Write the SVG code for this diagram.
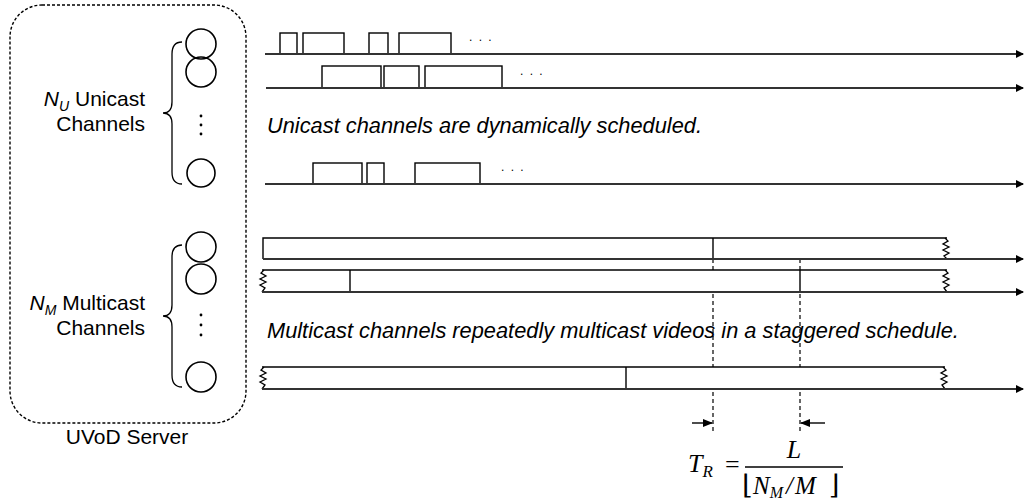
<svg xmlns="http://www.w3.org/2000/svg" width="1025" height="503" viewBox="0 0 1025 503">
<style>
.lbl{font-family:"Liberation Sans",Arial,sans-serif;font-size:21px;fill:#000}
.cap{font-family:"Liberation Sans",Arial,sans-serif;font-size:21.8px;font-style:italic;fill:#000}
.math{font-family:"Liberation Serif","Times New Roman",serif;font-style:italic;fill:#000}
.ch{fill:none;stroke:#000;stroke-width:1.6}
.br{fill:none;stroke:#000;stroke-width:1.3}
.axis{fill:none;stroke:#333;stroke-width:2}
.box{fill:#fff;stroke:#000;stroke-width:1.4}
.seg{fill:none;stroke:#000;stroke-width:1.4}
.dash{fill:none;stroke:#000;stroke-width:1.2;stroke-dasharray:4,3}
.dots{font-family:"Liberation Sans",Arial,sans-serif;font-size:12px;fill:#000;letter-spacing:1.5px}
</style>
<defs>
<marker id="ah" markerWidth="8" markerHeight="8" refX="7" refY="4" orient="auto" markerUnits="userSpaceOnUse">
<path d="M0,0 L8,4 L0,8 z" fill="#000"/>
</marker>
<marker id="sa" markerWidth="10" markerHeight="8" refX="9" refY="4" orient="auto" markerUnits="userSpaceOnUse">
<path d="M0,0 L10,4 L0,8 z" fill="#000"/>
</marker>
</defs>

<g id="server">
<rect x="10" y="5" width="236" height="418" rx="32" ry="32" fill="none" stroke="#000" stroke-width="1.4" stroke-dasharray="3,2"/>
<text class="lbl" x="127" y="444" text-anchor="middle">UVoD Server</text>
</g>

<g id="unicast-channels">
<text class="lbl" x="145" y="106" text-anchor="end"><tspan font-style="italic">N</tspan><tspan font-style="italic" font-size="14" dy="5">U</tspan><tspan dy="-5"> Unicast</tspan></text>
<text class="lbl" x="145" y="131" text-anchor="end">Channels</text>
<path class="br" d="M182,42 Q172,42 172,54 L172,102 Q172,113 163,113 Q172,113 172,124 L172,172 Q172,184 182,184"/>
<circle class="ch" cx="201" cy="44" r="15"/>
<circle class="ch" cx="201" cy="72" r="15"/>
<circle class="ch" cx="201" cy="173" r="14"/>
<circle cx="201" cy="116" r="1.4" fill="#000"/>
<circle cx="201" cy="125" r="1.4" fill="#000"/>
<circle cx="201" cy="134" r="1.4" fill="#000"/>
</g>

<g id="multicast-channels">
<text class="lbl" x="145" y="310" text-anchor="end"><tspan font-style="italic">N</tspan><tspan font-style="italic" font-size="14" dy="5">M</tspan><tspan dy="-5"> Multicast</tspan></text>
<text class="lbl" x="145" y="335" text-anchor="end">Channels</text>
<path class="br" d="M182,245 Q172,245 172,257 L172,305 Q172,316 163,316 Q172,316 172,327 L172,375 Q172,387 182,387"/>
<circle class="ch" cx="201" cy="247" r="15"/>
<circle class="ch" cx="201" cy="279" r="15"/>
<circle class="ch" cx="201" cy="377" r="15"/>
<circle cx="201" cy="315" r="1.4" fill="#000"/>
<circle cx="201" cy="325" r="1.4" fill="#000"/>
<circle cx="201" cy="335" r="1.4" fill="#000"/>
</g>

<g id="unicast-schedule">
<rect class="box" x="280" y="33" width="17" height="21"/>
<rect class="box" x="303" y="33" width="41" height="21"/>
<rect class="box" x="369" y="33" width="19" height="21"/>
<rect class="box" x="399" y="33" width="52" height="21"/>
<text class="dots" x="469" y="41">. . .</text>
<rect class="box" x="322" y="66" width="59" height="22"/>
<rect class="box" x="384" y="66" width="35" height="22"/>
<rect class="box" x="425" y="66" width="77" height="22"/>
<text class="dots" x="520" y="75">. . .</text>
<rect class="box" x="313" y="163" width="49" height="21"/>
<rect class="box" x="367" y="163" width="17" height="21"/>
<rect class="box" x="415" y="163" width="65" height="21"/>
<text class="dots" x="501" y="171">. . .</text>
<text class="cap" x="267" y="133">Unicast channels are dynamically scheduled.</text>
</g>

<g id="multicast-schedule">
<line class="dash" x1="713" y1="259" x2="713" y2="432"/>
<line class="dash" x1="800" y1="259" x2="800" y2="432"/>
<text class="cap" x="267" y="338">Multicast channels repeatedly multicast videos in a staggered schedule.</text>
<rect x="263" y="238" width="684" height="21" fill="#fff"/>
<path class="seg" d="M947,238 L263,238 L263,259"/>
<line class="seg" x1="713" y1="238" x2="713" y2="259"/>
<rect x="262" y="270" width="685" height="22" fill="#fff"/>
<path class="seg" d="M947,270 L262,270"/>
<line class="seg" x1="350" y1="270" x2="350" y2="292"/>
<line class="seg" x1="800" y1="270" x2="800" y2="292"/>
<rect x="262" y="367" width="683" height="22" fill="#fff"/>
<path class="seg" d="M945,367 L262,367"/>
<line class="seg" x1="626" y1="367" x2="626" y2="389"/>
</g>

<g id="zigzags">
<path class="br" d="M945,238 L948,241 L943,244 L949,247 L943,250 L949,253 L944,256 L947,259"/>
<path class="br" d="M945,270 L948,273 L943,276 L949,279 L943,282 L949,285 L944,288 L947,292"/>
<path class="br" d="M943,367 L946,370 L941,373 L947,376 L941,379 L947,382 L942,385 L945,389"/>
<path class="br" d="M264,270 L261,273 L266,276 L260,279 L266,282 L260,285 L265,288 L262,292"/>
<path class="br" d="M264,367 L261,370 L266,373 L260,376 L266,379 L260,382 L265,385 L262,389"/>
</g>

<g id="connectors">
<line class="axis" x1="265" y1="54" x2="1023" y2="54" marker-end="url(#ah)"/>
<line class="axis" x1="266" y1="88" x2="1023" y2="88" marker-end="url(#ah)"/>
<line class="axis" x1="265" y1="184" x2="1023" y2="184" marker-end="url(#ah)"/>
<line class="axis" x1="263" y1="259" x2="1023" y2="259" marker-end="url(#ah)"/>
<line class="axis" x1="262" y1="292" x2="1023" y2="292" marker-end="url(#ah)"/>
<line class="axis" x1="262" y1="389" x2="1023" y2="389" marker-end="url(#ah)"/>
<line x1="692" y1="423" x2="712" y2="423" stroke="#000" stroke-width="1.4" marker-end="url(#sa)"/>
<line x1="825" y1="423" x2="801" y2="423" stroke="#000" stroke-width="1.4" marker-end="url(#sa)"/>
</g>

<g id="formula">
<text class="math" x="688" y="472" font-size="26">T<tspan font-size="17" dy="5">R</tspan></text>
<text x="725" y="473" font-family="Liberation Serif,serif" font-size="26">=</text>
<text class="math" x="794" y="458" font-size="26" text-anchor="middle">L</text>
<line x1="745" y1="467" x2="843" y2="467" stroke="#000" stroke-width="1.3"/>
<text x="742" y="494" font-family="DejaVu Serif,serif" font-size="27">⌊</text>
<text class="math" x="753" y="494" font-size="25">N<tspan font-size="16" dy="4">M</tspan><tspan dy="-4" dx="3">/</tspan><tspan dx="2">M</tspan></text>
<text x="829" y="494" font-family="DejaVu Serif,serif" font-size="27">⌋</text>
</g>
</svg>
